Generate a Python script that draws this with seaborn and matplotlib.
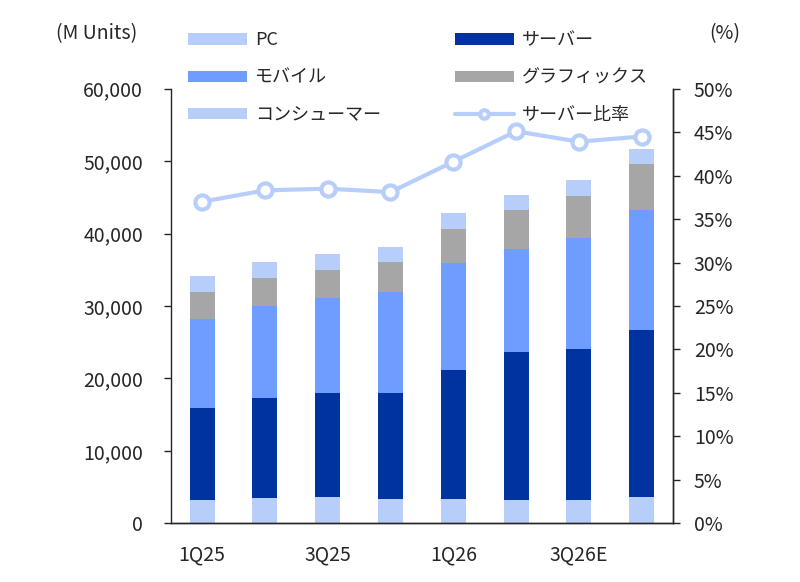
import numpy as np
import pandas as pd
import seaborn as sns
import matplotlib.pyplot as plt
from matplotlib.ticker import FixedLocator, FuncFormatter, MultipleLocator

sns.set_theme(style="white")
plt.rcParams['font.family'] = ['Noto Sans CJK JP', 'DejaVu Sans']

quarters = ["1Q25", "2Q25", "3Q25", "4Q25", "1Q26", "2Q26", "3Q26E", "4Q26E"]
consumer = [3210, 3490, 3630, 3350, 3350, 3210, 3210, 3630]
server = [12720, 13740, 14340, 14610, 17780, 20400, 20810, 23020]
mobile = [12230, 12720, 13140, 13960, 14850, 14240, 15300, 16540]
graphics = [3820, 3900, 3910, 4100, 4630, 5340, 5930, 6380]
pc = [2150, 2170, 2150, 2160, 2160, 2070, 2170, 2170]
server_ratio = [37.0, 38.3, 38.5, 38.1, 41.6, 45.1, 43.9, 44.5]

df = pd.DataFrame({"quarter": quarters, "consumer": consumer, "server": server,
                   "mobile": mobile, "graphics": graphics, "pc": pc})
# stack order bottom -> top
stack = [("consumer", "コンシューマー", "#B7CEFB"),
         ("server", "サーバー", "#0033A0"),
         ("mobile", "モバイル", "#6E9CFF"),
         ("graphics", "グラフィックス", "#A6A6A6"),
         ("pc", "PC", "#B7CEFB")]
cols = [s[0] for s in stack]
cum = df[cols].cumsum(axis=1)

text_c = "#262626"
fs = 14
fs_leg = 13

fig = plt.figure(figsize=(8, 5.82), dpi=100)
ax = fig.add_axes([0.2134, 0.1009, 0.6279, 0.7467])

# overlay cumulative totals, tallest first
for key, label, color in reversed(stack):
    sns.barplot(x=df["quarter"], y=cum[key], color=color, saturation=1,
                width=0.4, errorbar=None, linewidth=0, label=label, ax=ax)
if ax.get_legend() is not None:
    ax.get_legend().remove()

ax2 = ax.twinx()
sns.lineplot(x=np.arange(len(quarters)), y=server_ratio, ax=ax2, color="#B7CEFB",
             linewidth=3.0, marker="o", markersize=10.2, markerfacecolor="white",
             markeredgecolor="#B7CEFB", markeredgewidth=3.0, label="サーバー比率",
             legend=False)
if ax2.get_legend() is not None:
    ax2.get_legend().remove()

ax.set_xlim(-0.5, len(quarters) - 0.5)
ax.set_ylim(0, 60000)
ax2.set_ylim(0, 50)
ax.set_xlabel("")
ax.set_ylabel("")
ax2.set_ylabel("")

ax.yaxis.set_major_locator(MultipleLocator(10000))
ax.yaxis.set_major_formatter(FuncFormatter(lambda v, p: f"{int(v):,}"))
ax2.yaxis.set_major_locator(MultipleLocator(5))
ax2.yaxis.set_major_formatter(FuncFormatter(lambda v, p: f"{int(v)}%"))

ax.xaxis.set_major_locator(FixedLocator([0, 2, 4, 6]))
ax.set_xticklabels([quarters[i] for i in [0, 2, 4, 6]])
ax.xaxis.set_minor_locator(FixedLocator(np.arange(-0.5, len(quarters), 1.0)))
ax.tick_params(axis="x", which="major", length=0, pad=15, labelsize=fs, colors=text_c)
ax.tick_params(axis="x", which="minor", length=5, width=1, color=text_c, direction="out")
ax.tick_params(axis="y", length=5, width=1, pad=15, labelsize=fs, colors=text_c, left=True)
ax2.tick_params(axis="y", length=5, width=1, pad=10, labelsize=fs, colors=text_c, right=True)

for a in (ax, ax2):
    a.spines["top"].set_visible(False)
    for s in ("left", "right", "bottom"):
        a.spines[s].set_color(text_c)
        a.spines[s].set_linewidth(1)
ax2.spines["left"].set_visible(False)
ax2.grid(False)
ax.grid(False)

fig.text(0.07, 0.943, "(M Units)", fontsize=fs, color=text_c, ha="left", va="center")
fig.text(0.886, 0.943, "(%)", fontsize=fs, color=text_c, ha="left", va="center")

h1, l1 = ax.get_legend_handles_labels()
h2, l2 = ax2.get_legend_handles_labels()
hmap = dict(zip(l1 + l2, h1 + h2))
order = ["PC", "モバイル", "コンシューマー", "サーバー", "グラフィックス", "サーバー比率"]
fig.legend([hmap[k] for k in order], order, ncol=2, loc="upper left",
           bbox_to_anchor=(0.2235, 0.9615), frameon=False, fontsize=fs_leg,
           handlelength=3.3, handleheight=0.6, handletextpad=0.4,
           columnspacing=4.1, labelspacing=1.07, borderpad=0, markerscale=0.6,
           labelcolor=text_c)

fig.savefig("out.png", dpi=100)
